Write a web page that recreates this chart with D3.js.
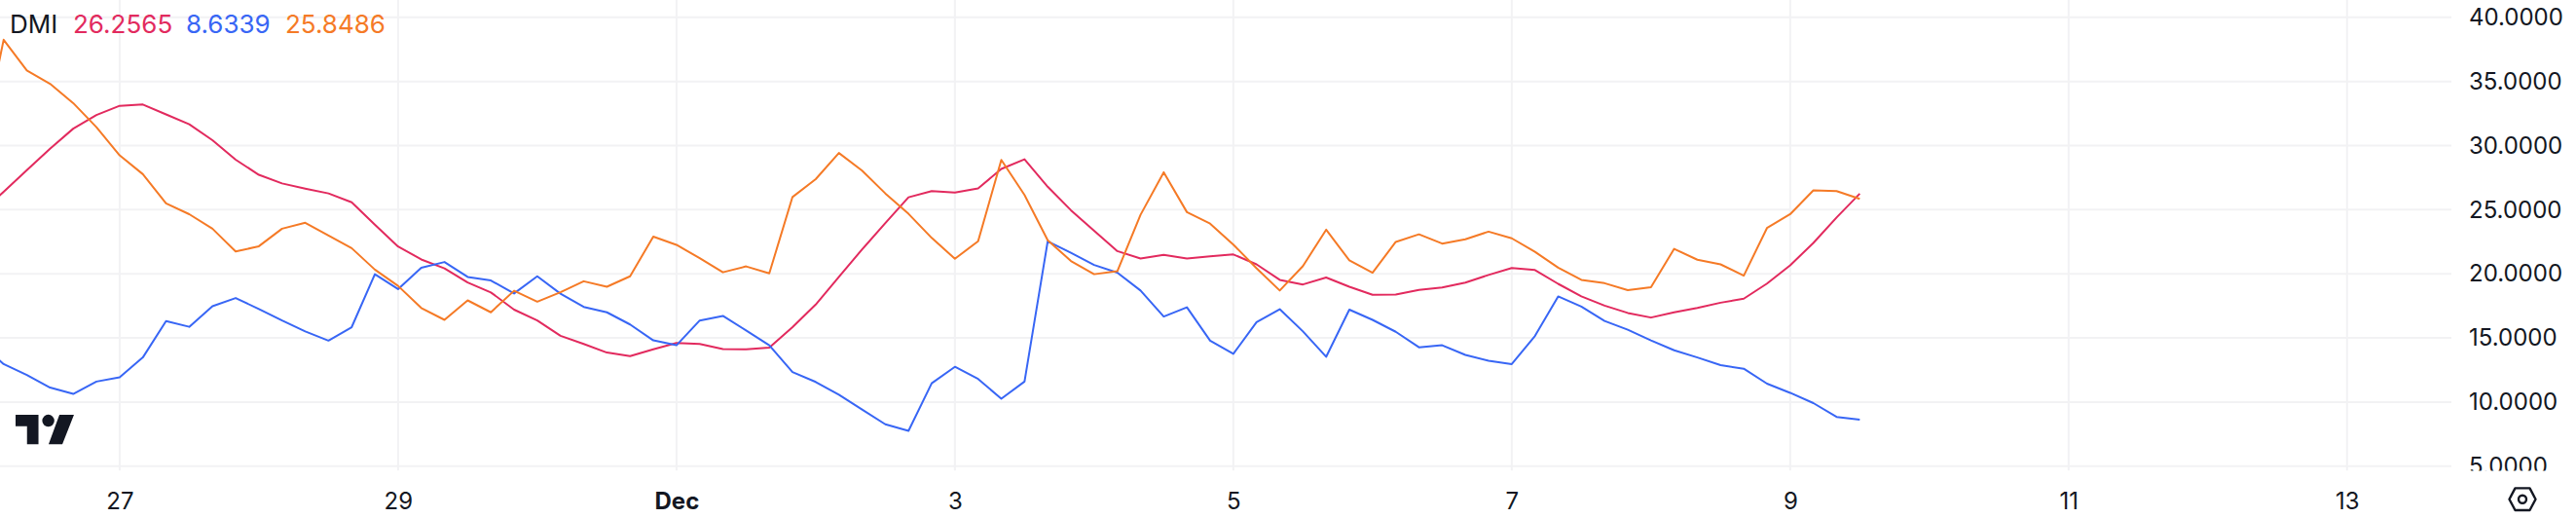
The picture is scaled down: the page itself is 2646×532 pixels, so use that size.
<!DOCTYPE html>
<html><head><meta charset="utf-8">
<script src="https://cdnjs.cloudflare.com/ajax/libs/d3/7.9.0/d3.min.js"></script>
<style>html,body{margin:0;padding:0;background:#fff;overflow:hidden}svg{display:block}text{font-family:Inter,sans-serif}</style>
</head><body><svg id="c" width="2646" height="532"></svg>
<script>
const seriesStart = "2024-11-26T00:00:00Z";
const barHours = 4;
const adx = [24.73,26.40,28.08,29.75,31.32,32.38,33.10,33.20,32.43,31.66,30.42,28.90,27.72,27.05,26.64,26.27,25.58,23.83,22.13,21.12,20.43,19.32,18.55,17.21,16.36,15.17,14.53,13.86,13.58,14.12,14.61,14.53,14.14,14.12,14.25,15.84,17.60,19.76,21.90,23.96,25.97,26.45,26.33,26.66,28.18,28.93,26.79,24.96,23.36,21.77,21.20,21.48,21.20,21.36,21.51,20.74,19.53,19.17,19.71,18.99,18.37,18.39,18.75,18.94,19.32,19.91,20.45,20.30,19.22,18.24,17.52,16.95,16.59,17.00,17.34,17.75,18.06,19.24,20.66,22.41,24.39,26.2565];
const plusDI = [14.56,12.96,12.11,11.13,10.64,11.60,11.93,13.48,16.31,15.87,17.47,18.11,17.26,16.36,15.51,14.79,15.84,19.97,18.81,20.48,20.92,19.76,19.48,18.47,19.81,18.45,17.42,17.00,16.05,14.81,14.43,16.36,16.72,15.59,14.43,12.34,11.57,10.57,9.41,8.27,7.76,11.47,12.75,11.80,10.26,11.60,22.54,21.64,20.69,20.09,18.70,16.67,17.39,14.79,13.76,16.23,17.24,15.51,13.53,17.21,16.41,15.48,14.27,14.43,13.68,13.22,12.96,15.15,18.24,17.44,16.33,15.64,14.81,14.04,13.48,12.88,12.60,11.44,10.72,9.92,8.84,8.6339];
const minusDI = [29.49,38.25,35.85,34.82,33.31,31.43,29.24,27.77,25.50,24.65,23.52,21.74,22.15,23.52,23.98,22.98,22.00,20.33,19.06,17.34,16.41,17.93,17.00,18.68,17.83,18.57,19.42,18.99,19.81,22.90,22.26,21.23,20.12,20.58,20.04,25.99,27.38,29.42,28.05,26.27,24.68,22.80,21.18,22.54,28.88,26.15,22.62,21.00,19.97,20.20,24.60,27.92,24.81,23.91,22.28,20.43,18.70,20.61,23.44,21.05,20.09,22.49,23.08,22.36,22.69,23.29,22.77,21.72,20.48,19.53,19.27,18.73,18.96,21.95,21.10,20.74,19.86,23.57,24.65,26.51,26.45,25.8486];
const yTicks = [5,10,15,20,25,30,35,40];
const xTickDates = ["2024-11-27","2024-11-29","2024-12-01","2024-12-03","2024-12-05","2024-12-07","2024-12-09","2024-12-11","2024-12-13"];
const xTickLabels = ["27","29","Dec","3","5","7","9","11","13"];
const legendName = "DMI";
const legendValues = ["26.2565","8.6339","25.8486"];

const colors = {adx:"#e22a5e", plus:"#3866f5", minus:"#f57a26", grid:"#f2f2f4", text:"#131722"};
const paneW = 2518, paneH = 483.5;
const svg = d3.select("#c");
const defs = svg.append("defs");
defs.append("clipPath").attr("id","pane").append("rect").attr("width",paneW).attr("height",paneH);
defs.append("clipPath").attr("id","yclip").append("rect").attr("x",paneW).attr("width",2646-paneW).attr("height",paneH);

const x = d3.scaleUtc().domain([new Date("2024-11-27T00:00:00Z"),new Date("2024-12-13T00:00:00Z")]).range([122.9,2410.8]);
const y = d3.scaleLinear().domain([5,40]).range([478.8,17.8]);
const t0 = +new Date(seriesStart);
const dateAt = i => new Date(t0 + i*barHours*3600e3);

const pane = svg.append("g").attr("clip-path","url(#pane)");
pane.append("g").selectAll("line").data(yTicks).join("line")
  .attr("x1",0).attr("x2",paneW).attr("y1",d=>y(d)).attr("y2",d=>y(d))
  .attr("stroke",colors.grid).attr("stroke-width",2);
const tickD = xTickDates.map(d=>new Date(d+"T00:00:00Z"));
pane.append("g").selectAll("line").data(tickD).join("line")
  .attr("x1",d=>x(d)).attr("x2",d=>x(d)).attr("y1",0).attr("y2",paneH)
  .attr("stroke",colors.grid).attr("stroke-width",2);

const line = d3.line().x((d,i)=>x(dateAt(i))).y(d=>y(d));
[[adx,colors.adx],[plusDI,colors.plus],[minusDI,colors.minus]].forEach(([s,c])=>{
  pane.append("path").datum(s).attr("d",line).attr("fill","none").attr("stroke",c).attr("stroke-width",2).attr("stroke-linejoin","round");
});

const yAxis = d3.axisRight(y).tickValues(yTicks).tickFormat(d3.format(".4f")).tickSize(0).tickPadding(18);
const yg = svg.append("g").attr("clip-path","url(#yclip)").append("g").attr("transform",`translate(${paneW},0)`).call(yAxis);
yg.select(".domain").remove();
yg.selectAll("text").attr("font-size",24).attr("fill",colors.text).attr("font-family","Inter,sans-serif");

const xAxis = d3.axisBottom(x).tickValues(tickD).tickFormat((d,i)=>xTickLabels[i]).tickSize(0).tickPadding(0);
const xg = svg.append("g").attr("transform","translate(0,514)").call(xAxis);
xg.select(".domain").remove();
xg.selectAll("text").attr("font-size",24).attr("dy","0.36em").attr("y",0).attr("fill",colors.text).attr("font-family","Inter,sans-serif")
  .attr("font-weight",(d,i)=>xTickLabels[i]==="Dec"?700:400);

const lg = svg.append("g").attr("font-size",26);
const legendItems = [[legendName,colors.text,10],[legendValues[0],colors.adx,75],[legendValues[1],colors.plus,191],[legendValues[2],colors.minus,293]];
lg.selectAll("text").data(legendItems).join("text").attr("x",d=>d[2]).attr("y",25).attr("dy","0.36em")
  .attr("fill",d=>d[1]).text(d=>d[0]);

svg.append("g").attr("transform","translate(16,426) scale(1.68)").attr("fill",colors.text).call(g=>{
  g.append("path").attr("d","M14 18H7V7H0V0h14v18zM35.7 0l-7.1 18h-8.4L26.8 0h8.9z");
  g.append("circle").attr("cx",20).attr("cy",3.6).attr("r",3.7);
});
const ic = svg.append("g").attr("transform","translate(2591,512.7)").attr("fill","none").attr("stroke",colors.text).attr("stroke-width",2.4);
ic.append("path").attr("d","M-13.5 0L-7.5 -11.3H7.5L13.5 0L7.5 11.3H-7.5Z").attr("stroke-linejoin","round");
ic.append("circle").attr("r",4);
</script></body></html>
